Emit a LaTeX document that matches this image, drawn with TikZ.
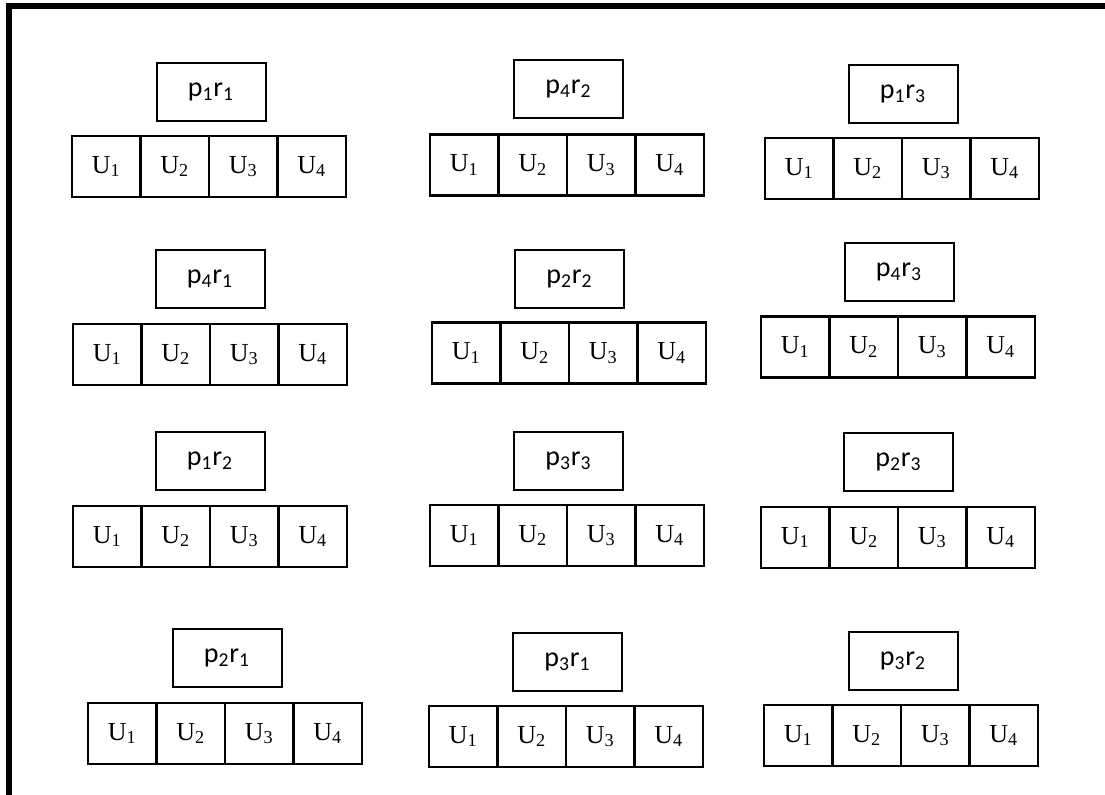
\documentclass[tikz,border=0pt]{standalone}
\usepackage{fontspec}
\setmainfont{Liberation Serif}
\newfontfamily\labelfont{Carlito}
\begin{document}
\begin{tikzpicture}[
  x=0.5pt, y=-0.5pt,
  frame/.style={line width=3pt, line join=miter},
  tag/.style={draw=black, line width=1pt, rectangle,
              minimum width=54.5pt, minimum height=29pt,
              font=\labelfont\fontsize{14}{16}\selectfont,
              inner sep=0pt, outer sep=0pt, anchor=center},
  cell/.style={draw=black, line width=1.2pt, rectangle,
               minimum width=34.25pt, minimum height=30.5pt,
               font=\fontsize{13}{15}\selectfont,
               inner sep=0pt, outer sep=0pt, anchor=center},
]
\useasboundingbox (0,0) rectangle (1105,794);
\fill[white] (0,0) rectangle (1105,794);
% Frame (top and left only)
\draw[frame] (9,800) -- (9,6) -- (1110,6);
% Blocks: name / p / r / tag centre / cell row left and centre
\foreach \n/\p/\r/\bx/\by/\cx/\cy in {
    a/1/1/211/91.5/72/166.5,
    b/4/2/568.5/89/430/165,
    c/1/3/903/94/765/168.5,
    d/4/1/210/279/73/354.5,
    e/2/2/569.5/278.5/432/353,
    f/4/3/899/272/761/347,
    g/1/2/210/461/73/536.5,
    h/3/3/568.5/461/430/535.5,
    i/2/3/898.5/462/761/537.5,
    j/2/1/227/658/88/733.5,
    k/3/1/567.5/661.5/429/736.5,
    l/3/2/903/660.5/764/735.5} {
  \node[tag] (tag\n) at (\bx,\by) {p\textsubscript{\p}r\textsubscript{\r}};
  \foreach \i in {1,...,4}
    \node[cell] (\n\i) at ({\cx+(\i-0.5)*68.5},\cy) {U\textsubscript{\i}};
}
\end{tikzpicture}
\end{document}
